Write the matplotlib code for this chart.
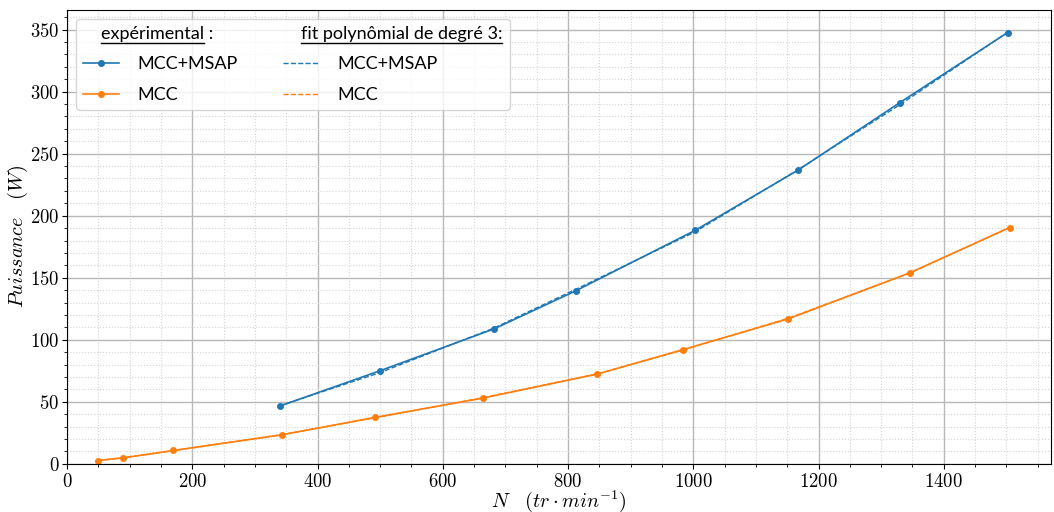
import matplotlib
matplotlib.use('Agg')
import matplotlib.pyplot as plt
from matplotlib.lines import Line2D
from matplotlib.ticker import MultipleLocator, FuncFormatter

plt.rcParams['mathtext.fontset'] = 'cm'
plt.rcParams['font.family'] = ['Lato', 'DejaVu Sans']

# mesures
n_mcc_msap = [340, 500, 682, 813, 1003, 1167, 1330, 1502]
p_mcc_msap = [46.6, 75.1, 108.8, 139.6, 188.2, 236.6, 291.2, 347.6]
n_mcc = [49, 89, 170, 343, 491, 664, 847, 983, 1152, 1346, 1505]
p_mcc = [2.7, 4.8, 10.8, 23.4, 37.4, 53.0, 72.4, 92.0, 116.9, 154.0, 190.4]

# fit polynomial
fit_mcc_msap = [46.9, 73.6, 109.5, 140.8, 187.0, 237.0, 289.5, 347.8]
fit_mcc = [2.6, 5.0, 10.6, 23.6, 37.0, 53.3, 72.6, 91.6, 117.4, 153.8, 190.5]

blue = '#1f77b4'
orange = '#ff7f0e'

fig = plt.figure(figsize=(10.54, 5.12), dpi=100)
ax = fig.add_axes([0.0636, 0.094, 0.934, 0.887])

l1, = ax.plot(n_mcc_msap, p_mcc_msap, '-o', color=blue, lw=1.2, ms=4)
l2, = ax.plot(n_mcc, p_mcc, '-o', color=orange, lw=1.2, ms=4)
f1, = ax.plot(n_mcc_msap, fit_mcc_msap, '--', color=blue, lw=1)
f2, = ax.plot(n_mcc, fit_mcc, '--', color=orange, lw=1)

ax.set_xlim(0, 1572)
ax.set_ylim(0, 366)
ax.xaxis.set_major_locator(MultipleLocator(200))
ax.xaxis.set_minor_locator(MultipleLocator(50))
ax.yaxis.set_major_locator(MultipleLocator(50))
ax.yaxis.set_minor_locator(MultipleLocator(10))
fmt = FuncFormatter(lambda v, _: r'$%g$' % v)
ax.xaxis.set_major_formatter(fmt)
ax.yaxis.set_major_formatter(fmt)
ax.tick_params(labelsize=13.5, pad=2)
ax.grid(which='major', color='#b8b8b8', lw=1)
ax.grid(which='minor', color='#d4d4d4', lw=0.8, ls=':')
ax.set_axisbelow(True)

ax.set_xlabel(r'$N \quad (tr \cdot min^{-1})$', fontsize=14.5, labelpad=-1)
ax.set_ylabel(r'$Puissance \quad (W)$', fontsize=14.5)
ax.yaxis.set_label_coords(-0.038, 0.5)

blank = Line2D([], [], linestyle='none')
handles = [blank, l1, l2, blank, f1, f2]
labels = ['expérimental :', 'MCC+MSAP', 'MCC',
          'fit polynômial de degré 3:', 'MCC+MSAP', 'MCC']
leg = ax.legend(handles, labels, ncol=2, loc='upper left', fontsize=13,
                labelspacing=0.8, columnspacing=2.5, handletextpad=1.0)

# en-tetes sans handle
for col in leg._legend_handle_box.get_children():
    col.get_children()[0].get_children()[0].width = 0

fig.canvas.draw()
r = fig.canvas.get_renderer()
texts = leg.get_texts()
W, H = fig.bbox.width, fig.bbox.height
for i, word in [(0, 'expérimental'), (3, 'fit polynômial de degré 3:')]:
    t = texts[i]
    bb = t.get_window_extent(r)
    w, _, _ = r.get_text_width_height_descent(word, t.get_fontproperties(), ismath=False)
    y = bb.y0 - 1
    fig.add_artist(Line2D([bb.x0 / W, (bb.x0 + w) / W], [y / H, y / H],
                          transform=fig.transFigure, color='black', lw=1, zorder=10))

fig.savefig('out.png', dpi=100)
